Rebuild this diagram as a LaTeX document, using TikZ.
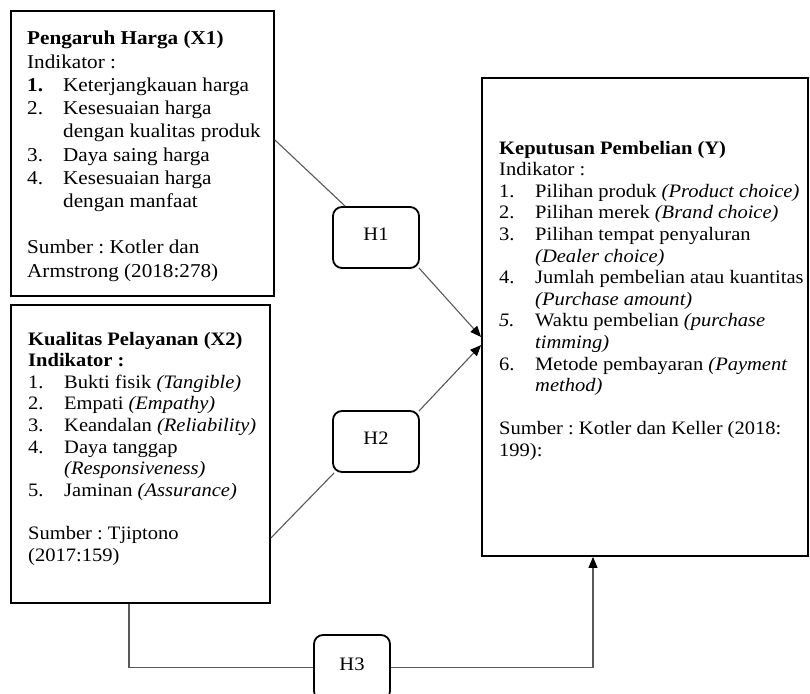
\documentclass[tikz,border=0pt]{standalone}
\usepackage{fontspec}
\setmainfont{Liberation Serif}[FakeStretch=1.08]
\usetikzlibrary{arrows.meta}
\frenchspacing
\newcommand{\nm}[1]{\makebox[36pt][l]{#1}}
\newcommand{\ii}{\hspace*{36pt}}
\newcommand{\txtsize}{\fontsize{19}{21.6}\selectfont}
\newcommand{\bigtxtsize}{\fontsize{19.6}{23.2}\selectfont}
\begin{document}
\begin{tikzpicture}[x=1pt,y=-1pt,
  frame/.style={draw=black,line width=1.8pt,rectangle,inner sep=0pt},
  hbox/.style={draw=black,line width=1.8pt,rounded corners=9pt,inner sep=0pt,minimum width=86pt,minimum height=61pt,font=\txtsize},
  body/.style={anchor=base west,inner sep=0pt},
  conn/.style={draw=black!65,line width=1.1pt},
  arr/.style={conn,-{Triangle[length=11pt,width=9pt,color=black]}}]
\useasboundingbox (0,0) rectangle (810,693);
\fill[white] (0,0) rectangle (810,693);

% frames
\node[frame,minimum width=263pt,minimum height=285pt] (X1) at (142.5,153.5) {};
\node[frame,minimum width=259pt,minimum height=298pt] (X2) at (140.5,454) {};
\node[frame,minimum width=326pt,minimum height=478pt] (Y) at (645,317) {};

% hypothesis boxes
\node[hbox] (H1) at (376,237.5) {\raisebox{7pt}{H1}};
\node[hbox] (H2) at (376,441.5) {\raisebox{7pt}{H2}};
\node[hbox,minimum width=76pt,minimum height=65pt] (H3) at (352,667.5) {\raisebox{7pt}{H3}};

% texts
\node[body] (X1t) at (27,45) {\parbox[t]{245pt}{\bigtxtsize\raggedright
\textbf{Pengaruh Harga (X1)}\\
Indikator :\\
\nm{\textbf{1.}}Keterjangkauan harga\\
\nm{2.}Kesesuaian harga\\
\ii dengan kualitas produk\\
\nm{3.}Daya saing harga\\
\nm{4.}Kesesuaian harga\\
\ii dengan manfaat\\
\mbox{}\\
Sumber : Kotler dan\\
Armstrong (2018:278)}};

\node[body] (X2t) at (28,345) {\parbox[t]{240pt}{\txtsize\raggedright
\textbf{Kualitas Pelayanan (X2)}\\
\textbf{Indikator :}\\
\nm{1.}Bukti fisik \textit{(Tangible)}\\
\nm{2.}Empati \textit{(Empathy)}\\
\nm{3.}Keandalan \textit{(Reliability)}\\
\nm{4.}Daya tanggap\\
\ii\textit{(Responsiveness)}\\
\nm{5.}Jaminan \textit{(Assurance)}\\
\mbox{}\\
Sumber : Tjiptono\\
(2017:159)}};

\node[body] (Yt) at (499,154) {\parbox[t]{305pt}{\txtsize\raggedright
\textbf{Keputusan Pembelian (Y)}\\
Indikator :\\
\nm{1.}Pilihan produk \textit{(Product choice)}\\
\nm{2.}Pilihan merek \textit{(Brand choice)}\\
\nm{3.}Pilihan tempat penyaluran\\
\ii\textit{(Dealer choice)}\\
\nm{4.}Jumlah pembelian atau kuantitas\\
\ii\textit{(Purchase amount)}\\
\nm{\textit{5.}}Waktu pembelian \textit{(purchase}\\
\ii\textit{timming)}\\
\nm{6.}Metode pembayaran \textit{(Payment}\\
\ii\textit{method)}\\
\mbox{}\\
Sumber : Kotler dan Keller (2018:\\
199):}};

% connectors
\draw[conn] ([yshift=13.5pt]X1.east) -- ([xshift=13pt]H1.north west);
\draw[arr] ([xshift=-1pt,yshift=1pt]H1.south east) -- ([yshift=-20pt]Y.west);
\draw[conn] ([yshift=-84pt]X2.east) -- ([xshift=2pt]H2.south west);
\draw[arr] ([xshift=-1pt,yshift=-1pt]H2.north east) -- ([yshift=-28pt]Y.west);
\draw[conn] ([xshift=-11.5pt]X2.south) |- (H3.west);
\draw[arr] (H3.east) -| ([xshift=-52pt]Y.south);
\end{tikzpicture}
\end{document}
